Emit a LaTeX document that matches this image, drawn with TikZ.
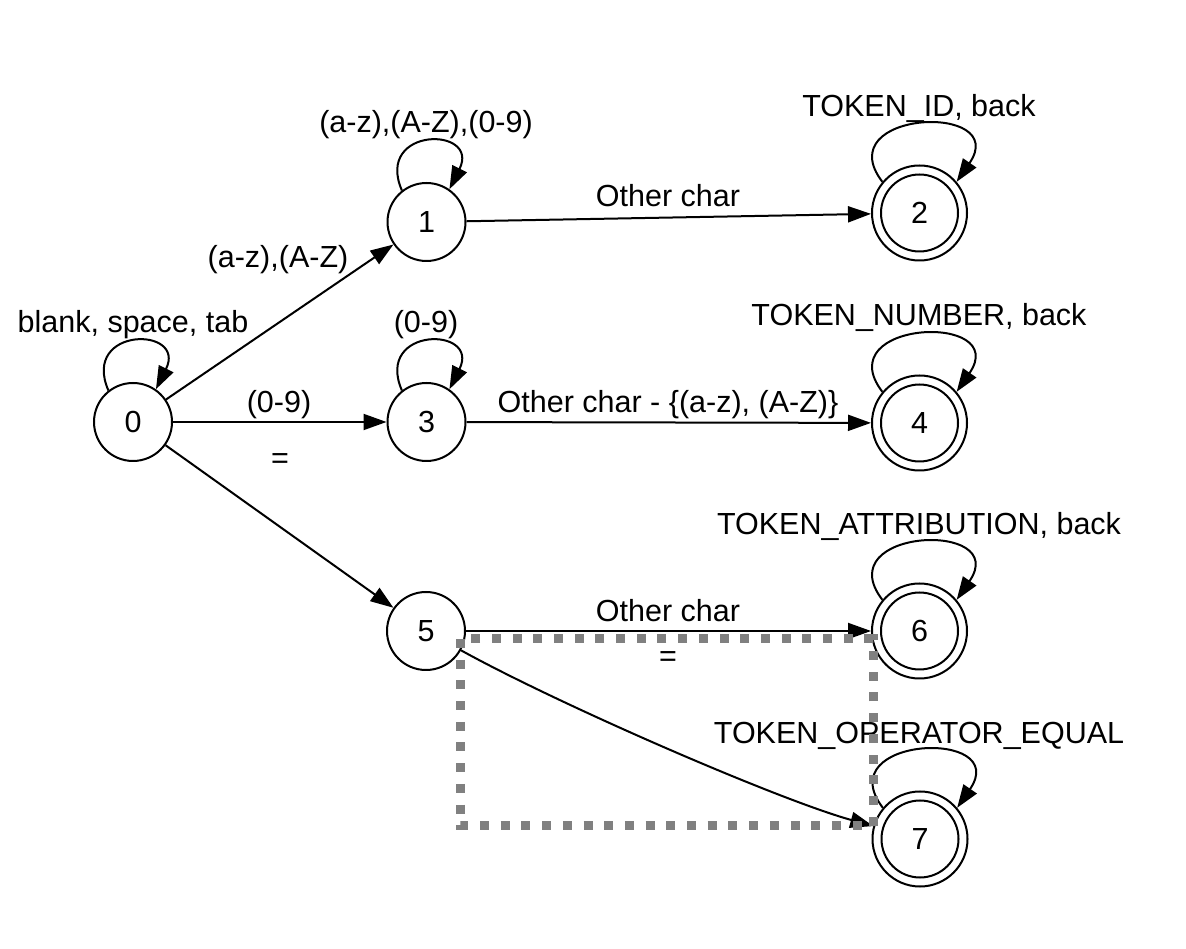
\documentclass[tikz,border=0pt]{standalone}
\usepackage{fontspec}
\setmainfont{Liberation Sans}
\usetikzlibrary{arrows.meta}
\newcommand\lblfont{\fontsize{30.5pt}{36pt}\selectfont}
\begin{document}
\begin{tikzpicture}[x=1pt,y=1pt,
  state/.style={circle,draw,line width=2pt,minimum size=78pt,inner sep=0pt,font=\lblfont},
  accept/.style={state,minimum size=95pt},
  innerring/.style={line width=2pt},
  arr/.style={line width=2pt,-{Triangle[length=23pt,width=16pt]}},
  lbl/.style={font=\lblfont,inner sep=0pt,anchor=base},
  lblc/.style={font=\lblfont,inner sep=0pt,anchor=center},
  dotbox/.style={draw=gray,line width=9pt,dash pattern=on 9pt off 11.7pt}]
\useasboundingbox (0,0) rectangle (1186,948);

% states
\node[state] (n0) at (133,526) {0};
\node[state] (n1) at (426.5,726) {1};
\node[state] (n3) at (426.5,526) {3};
\node[state] (n5) at (426,317) {5};
\node[accept] (n2) at (919.5,735) {};
\node[accept] (n4) at (919.5,525) {};
\node[accept] (n6) at (919.5,317) {};
\node[accept] (n7) at (920,109) {};
\foreach \n/\t in {n2/2,n4/4,n6/6,n7/7}{
  \draw[innerring] (\n.center) circle[radius=38.5];
  \node[font=\lblfont,inner sep=0pt] at (\n.center) {\t};
}

% self loops on plain states
\foreach \n in {n0,n1,n3}{
  \draw[arr] (\n.128) .. controls +(-27.7,64.5) and +(31.3,63) .. (\n.55);
}
% self loops on accepting states
\foreach \n in {n2,n4,n6,n7}{
  \draw[arr] (\n.140) .. controls +(-55,72) and +(55,80) .. (\n.40);
}

% transitions
\draw[arr] (n0) -- (n1);
\draw[arr] (n0) -- (n3);
\draw[arr] (n0) -- (n5);
\draw[arr] (n1) -- (n2);
\draw[arr] (n3) -- (n4);
\draw[arr] (n5) -- (n6);
\draw[arr] (n5) .. controls (560,243) and (779,148) .. (n7);

% labels
\node[lbl] (l0) at (133,615) {blank, space, tab};
\node[lbl] (l1) at (426,815) {(a-z),(A-Z),(0-9)};
\node[lbl] (l3) at (426,615) {(0-9)};
\node[lbl] (l2) at (919,831) {TOKEN\_ID, back};
\node[lbl] (l4) at (919,622) {TOKEN\_NUMBER, back};
\node[lbl] (l6) at (919,413) {TOKEN\_ATTRIBUTION, back};
\node[lbl] (l7) at (919,204) {TOKEN\_OPERATOR\_EQUAL};
\node[lbl] (e12) at (668,741) {Other char};
\node[lbl] (e01) at (278,680) {(a-z),(A-Z)};
\node[lbl] (e03) at (279,535) {(0-9)};
\node[lbl] (e34) at (668,535) {Other char - \{(a-z), (A-Z)\}};
\node[lblc] (e05) at (280,486.5) {=};
\node[lbl] (e56) at (668,326) {Other char};
\node[lblc] (e57) at (668,288.5) {=};

% dotted annotation box
\coordinate (b1) at (460,309);
\coordinate (b2) at (873,122);
\draw[dotbox] (b1) rectangle (b2);
\end{tikzpicture}
\end{document}
